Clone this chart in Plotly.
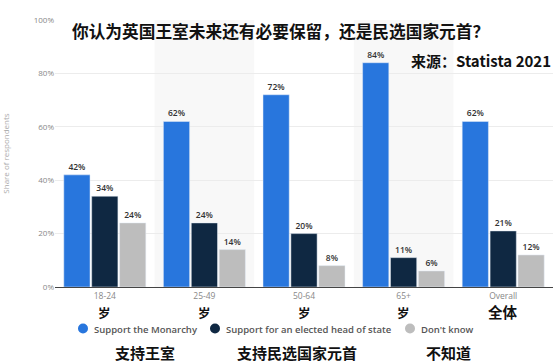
import plotly.graph_objects as go

categories = ["18-24", "25-49", "50-64", "65+", "Overall"]
cn_suffix = ["岁", "岁", "岁", "岁", "全体"]
monarchy = [42, 62, 72, 84, 62]
elected = [34, 24, 20, 11, 21]
dont_know = [24, 14, 8, 6, 12]
series_names = ["Support the Monarchy", "Support for an elected head of state", "Don't know"]
series_cn = ["支持王室", "支持民选国家元首", "不知道"]
colors = ["#2876dd", "#0f2842", "#bdbdbd"]
y_ticks = [0, 20, 40, 60, 80, 100]

title = "你认为英国王室未来还有必要保留，还是民选国家元首？"
source = "来源：Statista 2021"

CJK = "Noto Sans CJK SC"
W, H = 559, 363
L, R, T, B = 55, 6, 20, 76
PW, PH = W - L - R, H - T - B


def px(x):
    return (x - L) / PW


def py(y):
    return (H - B - y) / PH


fig = go.Figure()
for vals, name, col in zip([monarchy, elected, dont_know], series_names, colors):
    fig.add_trace(go.Bar(
        x=categories, y=vals, name=name, marker_color=col, showlegend=False,
        text=[f"{v}%" for v in vals], textposition="outside",
        textfont=dict(size=8.5, color="#333", family="Open Sans", weight=600),
        cliponaxis=False,
    ))

# alternating background bands
for i in [1, 3]:
    fig.add_shape(type="rect", xref="x", yref="y", x0=i - 0.5, x1=i + 0.5,
                  y0=0, y1=100, fillcolor="#f8f8f8", line_width=0, layer="below")

# Chinese sublabels under ticks
for c, s in zip(categories, cn_suffix):
    big = s == "全体"
    fig.add_annotation(x=c, xref="x", y=py(312 if not big else 311.5), yref="paper", text=f"<b>{s}</b>",
                       showarrow=False, xanchor="center", yanchor="middle",
                       font=dict(family=CJK, size=14.5 if big else 12.5, color="#111"))

# manual legend (circle markers + labels)
legend_dots = [83, 215, 410]
for name, col, dx in zip(series_names, colors, legend_dots):
    r = 5
    fig.add_shape(type="circle", xref="paper", yref="paper",
                  x0=px(dx - r), x1=px(dx + r), y0=py(328.5 + r), y1=py(328.5 - r),
                  fillcolor=col, line_width=0)
    fig.add_annotation(x=px(dx + 9), xref="paper", y=py(329), yref="paper",
                       text=name, showarrow=False, xanchor="left", yanchor="middle",
                       font=dict(family="Open Sans", size=9.5, color="#555", weight=600))

# Chinese legend translations
for txt, xp in zip(series_cn, [145, 297, 448]):
    fig.add_annotation(x=px(xp), xref="paper", y=py(352), yref="paper",
                       text=f"<b>{txt}</b>", showarrow=False, xanchor="center", yanchor="middle",
                       font=dict(family=CJK, size=15, color="#111"))

fig.add_annotation(x=px(70), xref="paper", y=py(31), yref="paper",
                   text=f"<b>{title}</b>", showarrow=False, xanchor="left", yanchor="middle",
                   font=dict(family=CJK, size=16.7, color="#111"))
fig.add_annotation(x=px(553), xref="paper", y=py(60), yref="paper",
                   text=f"<b>{source}</b>", showarrow=False, xanchor="right", yanchor="middle",
                   font=dict(family=CJK, size=15, color="#111"))

fig.update_layout(
    width=W, height=H,
    margin=dict(l=L, r=R, t=T, b=B, autoexpand=False),
    paper_bgcolor="white", plot_bgcolor="white",
    barmode="group", bargap=0.16, bargroupgap=0.06,
    font=dict(family="Open Sans", color="#666"),
    showlegend=False,
    xaxis=dict(tickfont=dict(size=8.5, color="#888"), showline=True, linecolor="#444",
               linewidth=1, ticks="", showgrid=False, ticklabelstandoff=1),
    yaxis=dict(range=[0, 100], tickvals=y_ticks, ticktext=[f"{v}%" for v in y_ticks],
               tickfont=dict(size=8, color="#888"), gridcolor="#ececec", zeroline=False,
               automargin=False,
               title=dict(text="Share of respondents", font=dict(size=8, color="#aaa"), standoff=22)),
)

fig.write_html("out.html", config={"displayModeBar": False},
               post_script="document.body.style.margin='0';")
